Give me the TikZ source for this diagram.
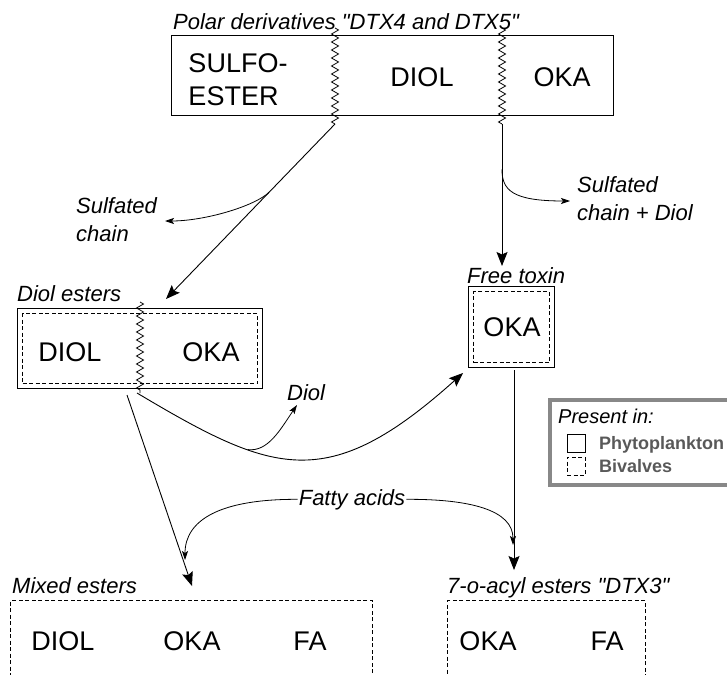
\documentclass[tikz,border=0pt]{standalone}
\usepackage{fontspec}
\setmainfont{Liberation Sans}[Ligatures=TeXOff]
\usetikzlibrary{arrows.meta,decorations.pathmorphing}

\definecolor{legendgray}{RGB}{136,136,136}
\definecolor{keygray}{RGB}{89,89,89}

\def\zz#1#2#3{\draw[line width=0.8pt,decorate,decoration={zigzag,amplitude=3.5pt,segment length=8pt}] (#1,#2) -- (#1,#3);}

\tikzset{
	box/.style={draw,line width=1.1pt,inner sep=0pt,anchor=north west},
	dbox/.style={draw,dash pattern=on 4pt off 2.5pt,line width=1pt,inner sep=0pt,anchor=north west},
	part/.style={font=\fontsize{27}{33}\selectfont,inner sep=0pt},
	lbl/.style={font=\fontsize{22}{28.5}\selectfont\itshape,inner sep=0pt,anchor=base west},
	keytxt/.style={font=\fontsize{18}{22}\selectfont\bfseries,text=keygray,inner sep=0pt,anchor=base west},
	big/.style={line width=0.9pt,-{Stealth[length=14pt,width=11pt,inset=2.5pt]}},
	small/.style={line width=0.8pt,-{Stealth[length=9pt,width=6pt,inset=2pt]}},
}

\begin{document}
\begin{tikzpicture}[x=1pt,y=-1pt]
	\useasboundingbox (0,0) rectangle (727,674);

	% boxes
	\node[box,minimum width=442,minimum height=80] (polar) at (171,35) {};
	\node[box,minimum width=245,minimum height=80] (diolest) at (17,308) {};
	\node[dbox,minimum width=235,minimum height=70] (diolin) at (22,313) {};
	\node[box,minimum width=86,minimum height=81] (free) at (468,286) {};
	\node[dbox,minimum width=76,minimum height=71] (freein) at (473,291) {};
	\node[dbox,minimum width=362,minimum height=120] (mixed) at (10,600) {};
	\node[dbox,minimum width=198,minimum height=120] (acyl) at (447,600) {};

	\zz{335}{28}{124}
	\zz{502}{28}{124}
	\zz{140}{302}{393}

	\node[part,align=left] (sulfo) at (238,80) {SULFO-\\ESTER};
	\node[part] (diol1) at (422,77) {DIOL};
	\node[part] (oka1) at (562,77) {OKA};
	\node[part] (diol2) at (70,352) {DIOL};
	\node[part] (oka2) at (211,352) {OKA};
	\node[part] (oka3) at (512,327) {OKA};
	\node[part] (diol4) at (63,641) {DIOL};
	\node[part] (oka4) at (192,641) {OKA};
	\node[part] (fa4) at (310,641) {FA};
	\node[part] (oka5) at (488,641) {OKA};
	\node[part] (fa5) at (607,641) {FA};

	\node[lbl] (lpolar) at (173,30) {Polar derivatives "DTX4 and DTX5"};
	\node[lbl] (ldiolest) at (17,301) {Diol esters};
	\node[lbl] (lfree) at (467,283) {Free toxin};
	\node[lbl] (lmixed) at (12,593) {Mixed esters};
	\node[lbl] (lacyl) at (447,593) {7-o-acyl esters "DTX3"};
	\node[lbl,anchor=north west,align=left] (lsulf) at (76,197) {Sulfated\\chain};
	\node[lbl,anchor=north west,align=left] (lsulfdiol) at (577,176) {Sulfated\\chain + Diol};
	\node[lbl] (ldiol) at (287,400) {Diol};
	\node[lbl,anchor=base,inner sep=1pt] (fatty) at (352,505) {Fatty acids};

	\coordinate (z1) at (335,124);
	\coordinate (z2) at (502,124);
	\coordinate (z3) at (137,393);
	\coordinate (s3) at (127,395);
	\coordinate (sfree) at (514,370);
	\coordinate (tdiolest) at (166,299);
	\coordinate (tfree) at (502,266);
	\coordinate (tfree2) at (463,373);
	\coordinate (tsulf) at (165,221);
	\coordinate (tsulfdiol) at (570,201);
	\coordinate (tdiol) at (297,405);
	\coordinate (tmixed) at (192,586);
	\coordinate (tacyl) at (514,570);
	\coordinate (tfa1) at (185,560);
	\coordinate (tfa2) at (513,545);

	\draw[big] (z1) -- (tdiolest) coordinate[pos=0.39] (b1);
	\draw[small] (b1) .. controls (255,206) and (205,221) .. (tsulf);
	\draw[big] (z2) -- (tfree) coordinate[pos=0.32] (b2);
	\draw[small] (b2) .. controls (502,190) and (512,201) .. (tsulfdiol);
	\draw[big] (z3) .. controls (273,474) and (327,495) .. (tfree2) coordinate[pos=0.32] (b3);
	\draw[small] (b3) .. controls (268,452) and (280,430) .. (tdiol);
	\draw[big] (s3) -- (tmixed);
	\draw[big] (sfree) -- (tacyl);
	\draw[small] (fatty.west) .. controls (220,499) and (185,520) .. (tfa1);
	\draw[small] (fatty.east) .. controls (470,499) and (513,510) .. (tfa2);

	% legend
	\draw[line width=4pt,color=legendgray] (550,400) rectangle (760,485);
	\node[font=\fontsize{20}{24}\selectfont\itshape,inner sep=0pt,anchor=base west] (lpresent) at (558,423) {Present in:};
	\node[draw,line width=1pt,minimum size=18,inner sep=0pt] (kphyto) at (576,443) {};
	\node[dbox,anchor=center,minimum size=18] (kbiv) at (576,466) {};
	\node[keytxt] (tphyto) at (599,449) {Phytoplankton};
	\node[keytxt] (tbiv) at (599,472) {Bivalves};
\end{tikzpicture}
\end{document}
